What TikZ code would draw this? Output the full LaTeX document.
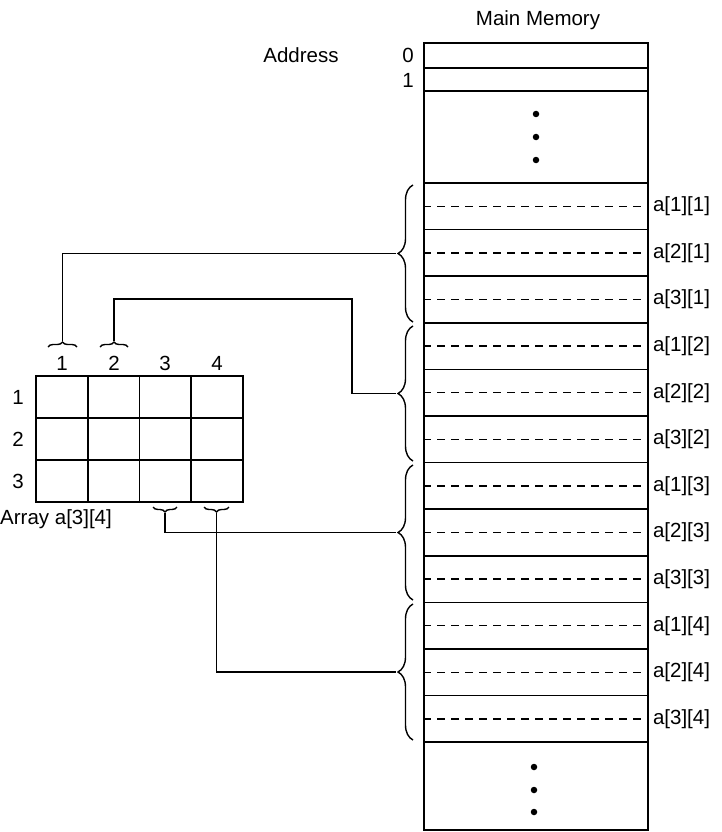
\documentclass[tikz,border=0pt]{standalone}
\usepackage{fontspec}
\setmainfont{Liberation Sans}
\usetikzlibrary{decorations.pathreplacing}
\begin{document}
\begin{tikzpicture}[x=1pt,y=-1pt,
  font=\fontsize{20.5}{23}\selectfont,
  memrow/.style={draw,line width=1.6pt,inner sep=0pt,minimum width=224pt},
  acell/.style={draw,line width=1.6pt,inner sep=0pt,minimum width=51.75pt,minimum height=42pt},
  dashline/.style={line width=1.5pt,dash pattern=on 8pt off 6pt},
  wire/.style={line width=1.5pt},
  bigbrace/.style={decorate,decoration={brace,amplitude=15pt},line width=1.4pt},
  smallbrace/.style={decorate,decoration={brace,amplitude=5pt},line width=1.4pt},
  memdot/.style={circle,fill=black,inner sep=0pt,minimum size=6.5pt}]
\useasboundingbox (0,0) rectangle (722,832);

% titles
\node (title) at (538,20) {Main Memory};
\node (addr) at (301,55) {Address};
\node (a0) at (408,55) {0};
\node (a1) at (408,80) {1};

% memory top part
\node[memrow,minimum height=25pt] (m0) at (536,55.5) {};
\node[memrow,minimum height=23pt] (m1) at (536,79.5) {};
\node[memrow,minimum height=92pt] (mtop) at (536,137) {};
\node[memdot] (d1) at (536,114) {};
\node[memdot] (d2) at (536,137) {};
\node[memdot] (d3) at (536,160) {};

% element rows
\foreach \i/\lab in {0/{a[1][1]},1/{a[2][1]},2/{a[3][1]},3/{a[1][2]},4/{a[2][2]},5/{a[3][2]},6/{a[1][3]},7/{a[2][3]},8/{a[3][3]},9/{a[1][4]},10/{a[2][4]},11/{a[3][4]}}{
  \pgfmathsetmacro\yc{183+46.6*\i+23.3}
  \node[memrow,minimum height=46.6pt] (e\i) at (536,\yc) {};
  \draw[dashline] (e\i.west) -- (e\i.east);
  \node[anchor=west,inner sep=4pt] (l\i) at (e\i.east) {\lab};
}

% memory bottom part
\node[memrow,minimum height=88pt] (mbot) at (536,786) {};
\node[memdot] (d4) at (534,767) {};
\node[memdot] (d5) at (534,790) {};
\node[memdot] (d6) at (534,812) {};

% braces
\coordinate (g1t) at (413,185); \coordinate (g1b) at (413,322);
\coordinate (g2t) at (413,326); \coordinate (g2b) at (413,461);
\coordinate (g3t) at (413,465); \coordinate (g3b) at (413,600);
\coordinate (g4t) at (413,604); \coordinate (g4b) at (413,740);
\draw[bigbrace] (g1b) -- (g1t);
\draw[bigbrace] (g2b) -- (g2t);
\draw[bigbrace] (g3b) -- (g3t);
\draw[bigbrace] (g4b) -- (g4t);
\coordinate (t1) at (396,253.5);
\coordinate (t2) at (396,393.5);
\coordinate (t3) at (396,532.5);
\coordinate (t4) at (396,672);

% array
\foreach \r in {1,2,3}{
  \foreach \c in {1,2,3,4}{
    \node[acell] (c\r\c) at ({36+51.75*(\c-0.5)},{376+42*(\r-0.5)}) {};
  }
}
\node (h1) at (62,363) {1};
\node (h2) at (114,363) {2};
\node (h3) at (165,363) {3};
\node (h4) at (217,363) {4};
\node (r1) at (18,397) {1};
\node (r2) at (18,439) {2};
\node (r3) at (18,481) {3};
\node[anchor=west,inner sep=0pt] (arrlab) at (0,519) {Array a[3][4]};

% small brackets
\coordinate (s1l) at (48,347); \coordinate (s1r) at (77,347);
\coordinate (s2l) at (100,347); \coordinate (s2r) at (128,347);
\coordinate (s3l) at (153,507); \coordinate (s3r) at (177,507);
\coordinate (s4l) at (204,507); \coordinate (s4r) at (229,507);
\draw[smallbrace] (s1l) -- (s1r);
\draw[smallbrace] (s2l) -- (s2r);
\draw[smallbrace] (s3r) -- (s3l);
\draw[smallbrace] (s4r) -- (s4l);
\coordinate (p1) at (62.5,341);
\coordinate (p2) at (114,341);
\coordinate (p3) at (165,513);
\coordinate (p4) at (216.5,513);

% connectors
\draw[wire] (p1) |- (t1);
\draw[wire] (p2) -- (114,299) -| (352,393.5) -- (t2);
\draw[wire] (p3) |- (t3);
\draw[wire] (p4) |- (t4);
\end{tikzpicture}
\end{document}
